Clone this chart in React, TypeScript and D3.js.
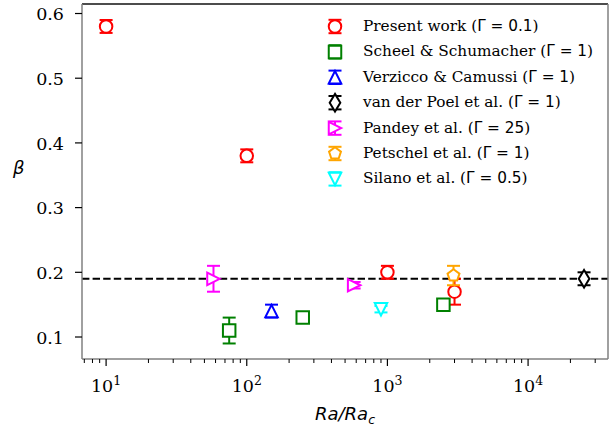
import React from "react";
import * as d3 from "d3";

// β versus Ra/Ra_c for several studies
const presentRa = [10, 100, 1000, 3000];
const presentBeta = [0.58, 0.38, 0.2, 0.17];
const presentErr = [0.01, 0.01, 0.01, 0.02];

const scheelRa = [75, 250, 2500];
const scheelBeta = [0.11, 0.13, 0.15];
const scheelErr = [0.02, 0.004, 0.004];

const verziccoRa = [150];
const verziccoBeta = [0.14];
const verziccoErr = [0.01];

const poelRa = [25000];
const poelBeta = [0.19];
const poelErr = [0.01];

const pandeyRa = [58, 580];
const pandeyBeta = [0.19, 0.18];
const pandeyErr = [0.02, 0.005];

const petschelRa = [2950];
const petschelBeta = [0.195];
const petschelErr = [0.015];

const silanoRa = [900];
const silanoBeta = [0.143];
const silanoErr = [0.005];

const referenceBeta = 0.19;

const seriesNames = [
  "Present work",
  "Scheel & Schumacher",
  "Verzicco & Camussi",
  "van der Poel et al.",
  "Pandey et al.",
  "Petschel et al.",
  "Silano et al.",
];
const seriesGamma = ["0.1", "1", "1", "1", "25", "1", "0.5"];
const seriesColors = ["#ff0000", "#008000", "#0000ff", "#000000", "#ff00ff", "#ffa500", "#00ffff"];
const seriesMarkers = ["o", "s", "^", "d", ">", "p", "v"];

const yTicks = [0.1, 0.2, 0.3, 0.4, 0.5, 0.6];
const xTicks = [10, 100, 1000, 10000];

const W = 612;
const H = 427;
const left = 82;
const right = 608;
const top = 4;
const bottom = 359;

const MS = 12.5;
const CAP = 6.5;

function markerPath(kind: string, ms: number): string {
  const h = ms / 2;
  const p = d3.path();
  if (kind === "o") {
    p.arc(0, 0, h, 0, Math.PI * 2);
    p.closePath();
  } else if (kind === "s") {
    p.rect(-h, -h, ms, ms);
  } else if (kind === "^") {
    p.moveTo(0, -h); p.lineTo(-h, h); p.lineTo(h, h); p.closePath();
  } else if (kind === "v") {
    p.moveTo(0, h); p.lineTo(-h, -h); p.lineTo(h, -h); p.closePath();
  } else if (kind === ">") {
    p.moveTo(h, 0); p.lineTo(-h, -h); p.lineTo(-h, h); p.closePath();
  } else if (kind === "d") {
    const dy = h * Math.SQRT2;
    const dx = dy * 0.6;
    p.moveTo(0, -dy); p.lineTo(dx, 0); p.lineTo(0, dy); p.lineTo(-dx, 0); p.closePath();
  } else if (kind === "p") {
    for (let i = 0; i < 5; i++) {
      const a = -Math.PI / 2 + (i * 2 * Math.PI) / 5;
      const px = h * Math.cos(a);
      const py = h * Math.sin(a);
      if (i === 0) p.moveTo(px, py); else p.lineTo(px, py);
    }
    p.closePath();
  }
  return p.toString();
}

const serif = "DejaVu Serif, Liberation Serif, serif";
const sans = "DejaVu Sans, sans-serif";

export default function App() {
  const x = d3.scaleLog().domain([6.74, 37000]).range([left, right]);
  const y = d3.scaleLinear().domain([0.066, 0.6147]).range([bottom, top]);

  const allSeries = [
    { ra: presentRa, beta: presentBeta, err: presentErr },
    { ra: scheelRa, beta: scheelBeta, err: scheelErr },
    { ra: verziccoRa, beta: verziccoBeta, err: verziccoErr },
    { ra: poelRa, beta: poelBeta, err: poelErr },
    { ra: pandeyRa, beta: pandeyBeta, err: pandeyErr },
    { ra: petschelRa, beta: petschelBeta, err: petschelErr },
    { ra: silanoRa, beta: silanoBeta, err: silanoErr },
  ];

  const minorTicks: number[] = [];
  for (let dec = 1; dec <= 10000; dec *= 10) {
    for (let m = 2; m <= 9; m++) {
      const v = m * dec;
      if (v >= x.domain()[0] && v <= x.domain()[1]) minorTicks.push(v);
    }
  }

  const legendX = 335;
  const legendTextX = 363;
  const legendY0 = 26.5;
  const legendStep = 25.4;

  return (
    <svg width={W} height={H} style={{ position: "absolute", left: 0, top: 0, background: "#fff" }}>
      <rect x={0} y={0} width={W} height={H} fill="#fff" />

      {/* reference line */}
      <line x1={left} x2={right} y1={y(referenceBeta)} y2={y(referenceBeta)}
        stroke="#000" strokeWidth={2} strokeDasharray="7.4,3.2" />

      {/* error bars and markers */}
      {allSeries.map((s, si) => (
        <g key={si}>
          {s.ra.map((ra, i) => {
            const cx = x(ra);
            const y1 = y(s.beta[i] + s.err[i]);
            const y2 = y(s.beta[i] - s.err[i]);
            return (
              <g key={i} stroke={seriesColors[si]} strokeWidth={2} fill="none">
                <line x1={cx} x2={cx} y1={y1} y2={y2} />
                <line x1={cx - CAP} x2={cx + CAP} y1={y1} y2={y1} />
                <line x1={cx - CAP} x2={cx + CAP} y1={y2} y2={y2} />
              </g>
            );
          })}
          {s.ra.map((ra, i) => (
            <path key={"m" + i} d={markerPath(seriesMarkers[si], MS)}
              transform={`translate(${x(ra)},${y(s.beta[i])})`}
              fill="#fff" stroke={seriesColors[si]} strokeWidth={2} />
          ))}
        </g>
      ))}

      {/* spines */}
      <line x1={left} x2={right} y1={top} y2={top} stroke="#111" strokeWidth={1.3} />
      <line x1={right} x2={right} y1={top} y2={bottom} stroke="#808080" strokeWidth={1.5} />
      <line x1={left} x2={left} y1={top} y2={bottom} stroke="#808080" strokeWidth={1.5} />
      <line x1={left} x2={right} y1={bottom} y2={bottom} stroke="#808080" strokeWidth={1.5} />

      {/* y axis */}
      {yTicks.map((t) => (
        <g key={t}>
          <line x1={left - 7} x2={left} y1={y(t)} y2={y(t)} stroke="#000" strokeWidth={1.2} />
          <text x={left - 18} y={y(t) + 6.8} textAnchor="end" fontFamily={serif} fontSize={17.5} fill="#000">
            {t.toFixed(1)}
          </text>
        </g>
      ))}
      <text x={13} y={174} fontFamily={sans} fontStyle="italic" fontSize={18} fill="#000">β</text>

      {/* x axis */}
      {minorTicks.map((t) => (
        <line key={t} x1={x(t)} x2={x(t)} y1={bottom} y2={bottom + 4} stroke="#000" strokeWidth={1} />
      ))}
      {xTicks.map((t) => (
        <g key={t}>
          <line x1={x(t)} x2={x(t)} y1={bottom} y2={bottom + 7} stroke="#000" strokeWidth={1.2} />
          <text x={x(t)} y={392} textAnchor="middle" fontFamily={serif} fontSize={17.5} fill="#000">
            10<tspan dy={-7} fontSize={12.5}>{Math.round(Math.log10(t))}</tspan>
          </text>
        </g>
      ))}
      <text x={(left + right) / 2} y={420} textAnchor="middle" fontFamily={sans} fontStyle="italic" fontSize={18} fill="#000">
        Ra/Ra<tspan dy={4} fontSize={12.5}>c</tspan>
      </text>

      {/* legend */}
      {seriesNames.map((name, i) => {
        const cy = legendY0 + i * legendStep;
        return (
          <g key={name}>
            <g stroke={seriesColors[i]} strokeWidth={2} fill="none">
              <line x1={legendX} x2={legendX} y1={cy - 6.7} y2={cy + 6.7} />
              <line x1={legendX - CAP} x2={legendX + CAP} y1={cy - 6.7} y2={cy - 6.7} />
              <line x1={legendX - CAP} x2={legendX + CAP} y1={cy + 6.7} y2={cy + 6.7} />
            </g>
            <path d={markerPath(seriesMarkers[i], MS)} transform={`translate(${legendX},${cy})`}
              fill="#fff" stroke={seriesColors[i]} strokeWidth={2} />
            <text x={legendTextX} y={cy + 4.5} fontFamily={serif} fontSize={15.3} fill="#000">
              {name} (<tspan fontFamily={sans}>Γ = {seriesGamma[i]}</tspan>)
            </text>
          </g>
        );
      })}
    </svg>
  );
}
